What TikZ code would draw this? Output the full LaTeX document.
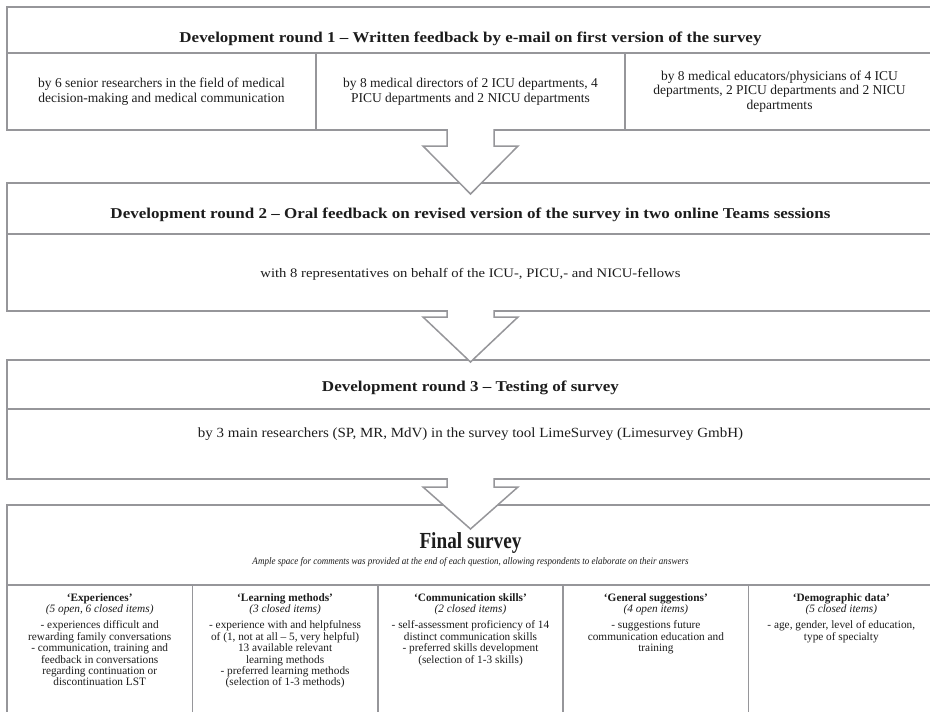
\documentclass[tikz,border=0pt]{standalone}
\usepackage{fontspec}
\setmainfont{Liberation Serif}
\usepackage{graphicx}
\usetikzlibrary{positioning, calc}
\definecolor{framegray}{RGB}{150,150,154}
\definecolor{inkgray}{RGB}{28,28,28}
\newcommand{\squeeze}[2]{\resizebox{#1}{\height}{#2}}
% block arrow from the bottom of one panel into the next one
\newcommand{\fatarrow}[4]{%
  \filldraw[fatarrow] ($(#1.south)+(-23.5,-1)$) -- ++(0,#3+1) -- ++(-24,0)
    -- ($(#2.north)+(0,#4)$) -- ($(#1.south)+(47.5,#3)$) -- ++(-24,0) -- ++(0,-#3-1);
}

\begin{document}
\begin{tikzpicture}[x=1pt,y=-1pt,
    frame/.style={draw=framegray, line width=1.5pt, inner sep=0pt, outer sep=0pt, anchor=north west},
    txt/.style={text=inkgray, align=center, inner sep=0pt},
    hdr/.style={txt, font=\fontsize{15}{17}\selectfont\bfseries},
    cell/.style={frame, txt, font=\fontsize{13.5}{14.5}\selectfont},
    coltext/.style={txt, anchor=north, font=\fontsize{11.3}{11.4}\selectfont},
    fatarrow/.style={draw=framegray, line width=1.5pt, fill=white, line join=miter}]

\useasboundingbox (0,0) rectangle (930,712);

% round 1
\node[frame, minimum width=927pt, minimum height=46pt] (r1) at (7,7) {};
\node[hdr] (r1t) at ([yshift=-9pt]r1.center)
    {\squeeze{582pt}{Development round 1 – Written feedback by e-mail on first version of the survey}};
\node[cell, minimum width=309pt, minimum height=77pt] (r1a) at (r1.south west)
    {by 6 senior researchers in the field of medical\\decision-making and medical communication};
\node[cell, minimum width=309pt, minimum height=77pt] (r1b) at (r1a.north east)
    {by 8 medical directors of 2 ICU departments, 4\\PICU departments and 2 NICU departments};
\node[cell, minimum width=309pt, minimum height=77pt] (r1c) at (r1b.north east)
    {by 8 medical educators/physicians of 4 ICU\\departments, 2 PICU departments and 2 NICU\\departments};

% round 2
\node[frame, minimum width=927pt, minimum height=51pt] (r2) at (7,183) {};
\node[hdr] (r2t) at ([yshift=-6pt]r2.center)
    {\squeeze{720pt}{Development round 2 – Oral feedback on revised version of the survey in two online Teams sessions}};
\node[frame, minimum width=927pt, minimum height=77pt] (r2b) at (r2.south west) {};
\node[txt, font=\fontsize{13}{15}\selectfont] (r2s) at ([yshift=-2pt]r2b.center)
    {\squeeze{420pt}{with 8 representatives on behalf of the ICU-, PICU,- and NICU-fellows}};

% round 3
\node[frame, minimum width=927pt, minimum height=49pt] (r3) at (7,360) {};
\node[hdr] (r3t) at ([yshift=-3pt]r3.center)
    {\squeeze{297pt}{Development round 3 – Testing of survey}};
\node[frame, minimum width=927pt, minimum height=70pt] (r3b) at (r3.south west) {};
\node[txt, font=\fontsize{14}{16}\selectfont] (r3s) at ([yshift=10pt]r3b.center)
    {\squeeze{545pt}{by 3 main researchers (SP, MR, MdV) in the survey tool LimeSurvey (Limesurvey GmbH)}};

% final survey
\node[frame, minimum width=927pt, minimum height=80pt] (r4) at (7,505) {};
\node[txt, font=\fontsize{23}{25}\selectfont\bfseries] (r4t) at ($(r4.north)+(0,38)$) {\squeeze{102pt}{Final survey}};
\node[txt, font=\fontsize{10}{11}\selectfont\itshape] (r4s) at ($(r4.north)+(0,57)$)
    {\squeeze{436pt}{Ample space for comments was provided at the end of each question, allowing respondents to elaborate on their answers}};

\node[frame, minimum width=185.4pt, minimum height=140pt] (c1) at (r4.south west) {};
\node[frame, minimum width=185.4pt, minimum height=140pt] (c2) at (c1.north east) {};
\node[frame, minimum width=185.4pt, minimum height=140pt] (c3) at (c2.north east) {};
\node[frame, minimum width=185.4pt, minimum height=140pt] (c4) at (c3.north east) {};
\node[frame, minimum width=185.4pt, minimum height=140pt] (c5) at (c4.north east) {};

\node[coltext] (c1t) at ($(c1.north)+(0,8)$)
    {\textbf{‘Experiences’}\\ \textit{(5 open, 6 closed items)}\\[5pt]
     - experiences difficult and\\ rewarding family conversations\\ - communication, training and\\
     feedback in conversations\\ regarding continuation or\\ discontinuation LST};
\node[coltext] (c2t) at ($(c2.north)+(0,8)$)
    {\textbf{‘Learning methods’}\\ \textit{(3 closed items)}\\[5pt]
     - experience with and helpfulness\\ of (1, not at all – 5, very helpful)\\ 13 available relevant\\
     learning methods\\ - preferred learning methods\\ (selection of 1-3 methods)};
\node[coltext] (c3t) at ($(c3.north)+(0,8)$)
    {\textbf{‘Communication skills’}\\ \textit{(2 closed items)}\\[5pt]
     - self-assessment proficiency of 14\\ distinct communication skills\\ - preferred skills development\\
     (selection of 1-3 skills)};
\node[coltext] (c4t) at ($(c4.north)+(0,8)$)
    {\textbf{‘General suggestions’}\\ \textit{(4 open items)}\\[5pt]
     - suggestions future\\ communication education and\\ training};
\node[coltext] (c5t) at ($(c5.north)+(0,8)$)
    {\textbf{‘Demographic data’}\\ \textit{(5 closed items)}\\[5pt]
     - age, gender, level of education,\\ type of specialty};

% arrows between the rounds
\fatarrow{r1b}{r2}{16}{11}
\fatarrow{r2b}{r3}{6}{2}
\fatarrow{r3b}{r4}{8}{24}
\end{tikzpicture}
\end{document}
